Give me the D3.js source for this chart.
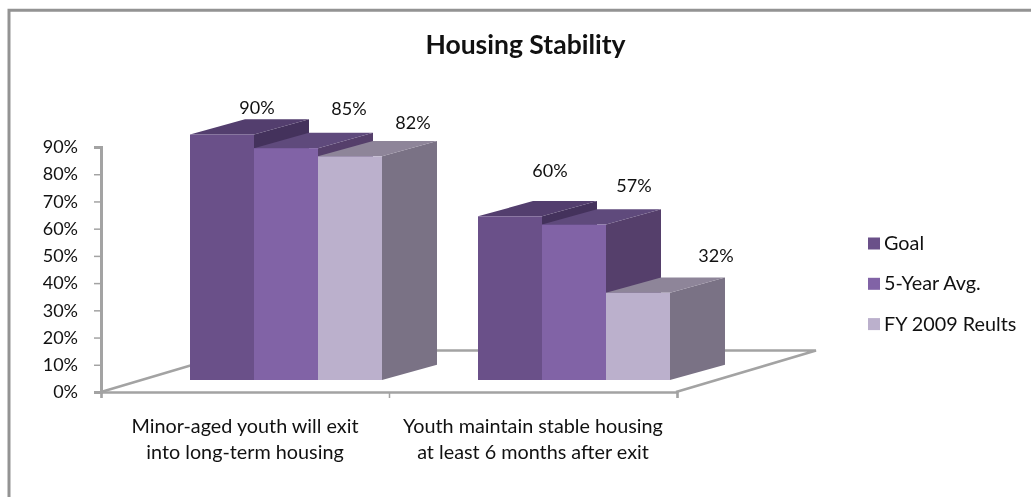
<!DOCTYPE html>
<html>
<head>
<meta charset="utf-8">
<script src="https://cdn.jsdelivr.net/npm/d3@7"></script>
<style>
  html, body { margin: 0; padding: 0; background: #fff; }
  svg { display: block; filter: blur(0.35px); }
  text { font-family: Lato, "Open Sans", sans-serif; fill: #111; }
  .axis path, .axis line { stroke: #a3a3a3; }
</style>
</head>
<body>
<div id="chart"></div>
<script>
var categories = [
  ["Minor-aged youth will exit", "into long-term housing"],
  ["Youth maintain stable housing", "at least 6 months after exit"]
];
var series_names = ["Goal", "5-Year Avg.", "FY 2009 Reults"];
var goal_values = [0.90, 0.60];
var avg_values = [0.85, 0.57];
var results_values = [0.82, 0.32];
var y_ticks = [0, 0.1, 0.2, 0.3, 0.4, 0.5, 0.6, 0.7, 0.8, 0.9];

var series_values = [goal_values, avg_values, results_values];

var width = 1031, height = 497;
var depth_x = 55, depth_y = 15.3;

// front, top and side colour of each series
var front_colors = ["#6a5089", "#8163a6", "#bbb0cc"];
var top_colors = ["#533e6e", "#5f4a7c", "#8e8599"];
var side_colors = ["#44325c", "#553f6b", "#7a7285"];

// hand placed in the original, offsets from the back corner of each bar top
var label_nudge = [
  [[-20, -5], [8, -18], [8, -12]],
  [[-15, -24], [5, -17], [23, -15]]
];

var svg = d3.select("#chart")
            .append("svg")
            .attr("width", width)
            .attr("height", height);

// frame, only top and left are inside the picture
svg.append("path")
   .attr("d", "M9,497V10.3H1031")
   .attr("fill", "none")
   .attr("stroke", "#939393")
   .attr("stroke-width", 3);

var axis_y_scale = d3.scaleLinear().domain([0, 0.9]).range([392, 147]);
var bar_y_scale = d3.scaleLinear().domain([0, 0.9]).range([380, 134.5]);
var axis_x_scale = d3.scaleLinear().domain([0, 2]).range([101, 677]);
var group_scale = d3.scaleBand().domain([0, 1]).range([142, 718]).paddingInner(0).paddingOuter(0);
var bar_scale = d3.scaleBand().domain([0, 1, 2]).range([48, 240]);

// floor of the 3d plot
var floor_x = 140, floor_y = 41.5;
svg.append("path")
   .attr("d", "M" + axis_x_scale(0) + "," + axis_y_scale(0)
        + "L" + (axis_x_scale(0) + floor_x) + "," + (axis_y_scale(0) - floor_y)
        + "H" + (axis_x_scale(2) + floor_x - 1)
        + "L" + (axis_x_scale(2) - 1) + "," + axis_y_scale(0))
   .attr("fill", "none")
   .attr("stroke", "#a3a3a3")
   .attr("stroke-width", 2.5);

var axis_y = d3.axisLeft(axis_y_scale)
               .tickValues(y_ticks)
               .tickSize(7)
               .tickPadding(16)
               .tickFormat(d3.format(".0%"));
var y_group = svg.append("g")
                 .attr("class", "axis")
                 .attr("transform", "translate(101,0)")
                 .call(axis_y);
y_group.select(".domain").attr("stroke-width", 3);
y_group.selectAll("line").attr("stroke-width", 1.5);
y_group.selectAll("text").style("font-size", "18px");

var axis_x = d3.axisBottom(axis_x_scale)
               .tickValues([0, 1, 2])
               .tickSize(6)
               .tickFormat("");
var x_group = svg.append("g")
                 .attr("class", "axis")
                 .attr("transform", "translate(0,392)")
                 .call(axis_x);
x_group.select(".domain").attr("stroke-width", 2.5);
x_group.selectAll("line").attr("stroke-width", 1.5);

// bars, left to right so the later ones sit over the earlier sides
var bar_rows = [];
categories.forEach(function(c, ci) {
  series_names.forEach(function(s, si) {
    bar_rows.push({cat: ci, ser: si, value: series_values[si][ci]});
  });
});

var bars = svg.append("g")
              .selectAll("g")
              .data(bar_rows)
              .enter()
              .append("g");

function bar_left(d) { return group_scale(d.cat) + bar_scale(d.ser); }
function bar_right(d) { return bar_left(d) + bar_scale.bandwidth(); }

bars.append("path")
    .attr("d", function(d) {
      var r = bar_right(d), t = bar_y_scale(d.value), b = bar_y_scale(0);
      return "M" + r + "," + t + "l" + depth_x + "," + (-depth_y)
           + "V" + (b - depth_y) + "L" + r + "," + b + "Z";
    })
    .attr("fill", function(d) { return side_colors[d.ser]; });

bars.append("path")
    .attr("d", function(d) {
      var l = bar_left(d), r = bar_right(d), t = bar_y_scale(d.value);
      return "M" + l + "," + t + "l" + depth_x + "," + (-depth_y)
           + "H" + (r + depth_x) + "L" + r + "," + t + "Z";
    })
    .attr("fill", function(d) { return top_colors[d.ser]; });

bars.append("rect")
    .attr("x", bar_left)
    .attr("y", function(d) { return bar_y_scale(d.value); })
    .attr("width", bar_scale.bandwidth())
    .attr("height", function(d) { return bar_y_scale(0) - bar_y_scale(d.value); })
    .attr("fill", function(d) { return front_colors[d.ser]; });

// value labels
svg.append("g")
   .selectAll("text")
   .data(bar_rows)
   .enter()
   .append("text")
   .attr("x", function(d) {
     return bar_left(d) + bar_scale.bandwidth() / 2 + depth_x + label_nudge[d.cat][d.ser][0];
   })
   .attr("y", function(d) {
     return bar_y_scale(d.value) - depth_y + label_nudge[d.cat][d.ser][1];
   })
   .attr("text-anchor", "middle")
   .style("font-size", "18px")
   .text(function(d) { return d3.format(".0%")(d.value); });

// category labels, centred under each half of the axis
var cat_labels = svg.append("g")
                    .selectAll("text")
                    .data(categories)
                    .enter()
                    .append("text")
                    .attr("text-anchor", "middle")
                    .style("font-size", "19.8px");
cat_labels.selectAll("tspan")
          .data(function(d, i) { return d.map(function(t) { return {t: t, i: i}; }); })
          .enter()
          .append("tspan")
          .attr("x", function(d) { return axis_x_scale(d.i + 0.5); })
          .attr("y", function(d, j) { return 433 + j * 26; })
          .text(function(d) { return d.t; });

// title
svg.append("text")
   .attr("x", 525.5)
   .attr("y", 54)
   .attr("text-anchor", "middle")
   .style("font-size", "26.5px")
   .style("font-weight", "bold")
   .text("Housing Stability");

// legend
var legend = svg.append("g")
                .selectAll("g")
                .data(series_names)
                .enter()
                .append("g")
                .attr("transform", function(d, i) { return "translate(868," + (237.5 + i * 40.3) + ")"; });
legend.append("rect")
      .attr("width", 12)
      .attr("height", 12)
      .attr("fill", function(d, i) { return front_colors[i]; });
legend.append("text")
      .attr("x", 16)
      .attr("y", 12.5)
      .style("font-size", "19.8px")
      .text(function(d) { return d; });
</script>
</body>
</html>
